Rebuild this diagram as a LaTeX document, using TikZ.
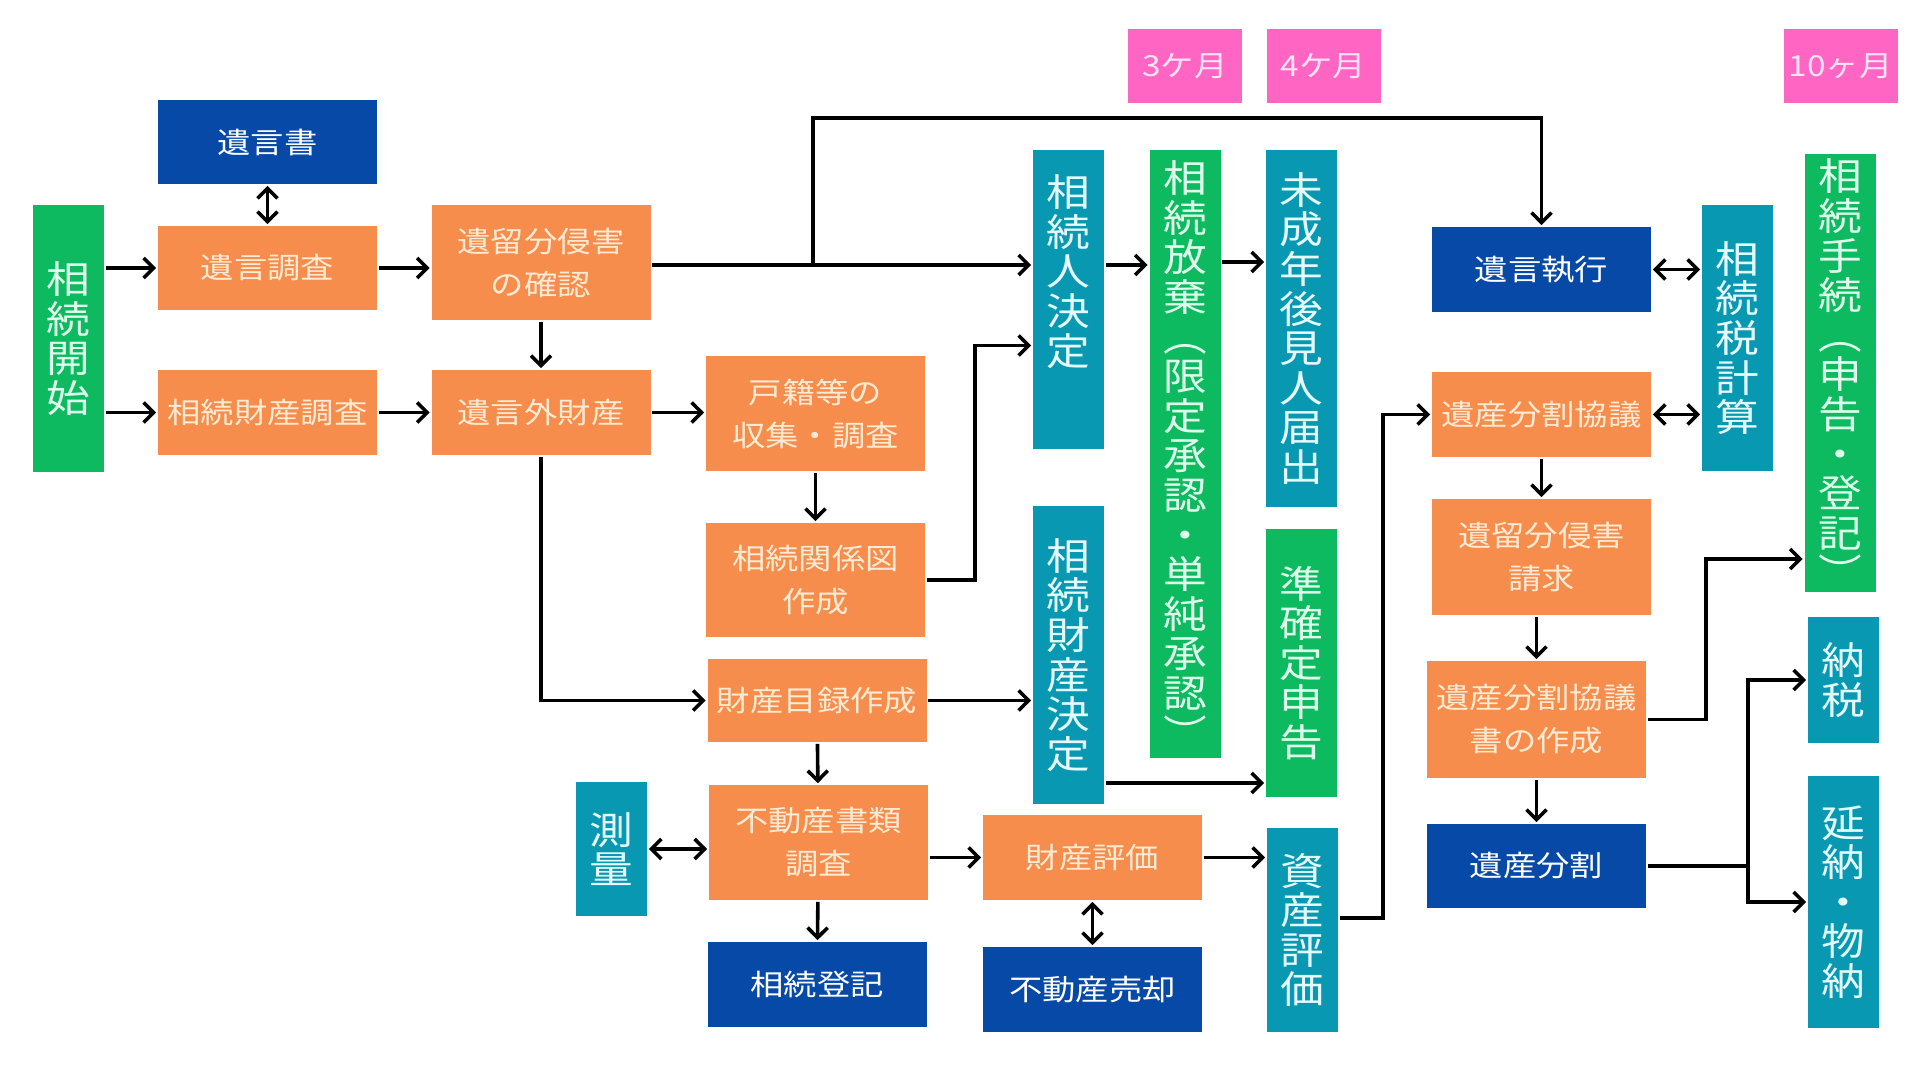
\documentclass[tikz,border=0pt]{standalone}
\usepackage{fontspec}
\setmainfont{Noto Sans CJK JP}[FakeStretch=1.15]
\usepackage{tikz}
\usetikzlibrary{calc,arrows,arrows.meta}

\definecolor{boxorange}{HTML}{F68D4C}
\definecolor{boxblue}{HTML}{0749A6}
\definecolor{boxgreen}{HTML}{0DBA5F}
\definecolor{boxteal}{HTML}{0998B2}
\definecolor{boxpink}{HTML}{FF66C4}
\definecolor{inkorange}{HTML}{FFEBD4}
\definecolor{inkgreen}{HTML}{DDFFEC}
\definecolor{inkteal}{HTML}{E4FBFF}
\definecolor{inkpink}{HTML}{FFE2F4}

\tikzset{
  box/.style={rectangle, inner sep=0pt, align=center, font=\fontsize{14.5}{21.5}\selectfont},
  wide/.style={box, minimum width=109.5pt},
  tall/.style={box, minimum width=35.5pt, font=\fontsize{19}{19.8}\selectfont},
  procbox/.style={fill=boxorange, text=inkorange},
  keybox/.style={fill=boxblue, text=white},
  stagebox/.style={fill=boxgreen, text=inkgreen},
  taskbox/.style={fill=boxteal, text=inkteal},
  limitbox/.style={box, fill=boxpink, text=inkpink, minimum width=57pt, minimum height=37pt}
}

\begin{document}
\begin{tikzpicture}[x=0.5pt, y=-0.5pt, line width=1.8pt, >={Straight Barb[length=5pt,width=10pt]}]
      \useasboundingbox (0,0) rectangle (1920,1080);

      % time limits on top
      \node[limitbox] (m3) at (1185,66) {3ケ月};
      \node[limitbox] (m4) at (1323.5,66) {4ケ月};
      \node[limitbox] (m10) at (1840.5,66) {10ヶ月};

      % first columns: start and will
      \node[tall, stagebox, minimum height=133.5pt] (start) at (68.5,338.5) {相\\続\\開\\始};
      \node[wide, keybox, minimum height=42pt] (will) at (267.5,142) {遺言書};
      \node[wide, procbox, minimum height=42pt] (willcheck) at (267.5,268) {遺言調査};
      \node[wide, procbox, minimum height=42.5pt] (estatecheck) at (267.5,412.5) {相続財産調査};
      \node[wide, procbox, minimum height=57.5pt] (reserve) at (541,262.5) {遺留分侵害\\の確認};
      \node[wide, procbox, minimum height=42.5pt] (outside) at (541,412.5) {遺言外財産};

      % family register and property column
      \node[wide, procbox, minimum height=57.5pt] (koseki) at (815.5,413.5) {戸籍等の\\収集・調査};
      \node[wide, procbox, minimum height=57pt] (relation) at (815.5,580) {相続関係図\\作成};
      \node[wide, procbox, minimum height=41.5pt] (catalog) at (817,700.5) {財産目録作成};
      \node[wide, procbox, minimum height=57.5pt] (realdoc) at (818.5,842.5) {不動産書類\\調査};
      \node[wide, keybox, minimum height=42.5pt] (registry) at (817,984.5) {相続登記};
      \node[tall, taskbox, minimum height=67pt] (survey) at (611.5,849) {測\\量};

      % heirs and assets
      \node[tall, taskbox, text height=107.5pt, text depth=42pt] (heir) at (1068.5,299.5) {相\\続\\人\\決\\定};
      \node[tall, taskbox, minimum height=149pt] (assets) at (1068.5,655) {相\\続\\財\\産\\決\\定};
      \node[wide, procbox, minimum height=42.5pt] (appraise) at (1092.5,857.5) {財産評価};
      \node[wide, keybox, minimum height=42.5pt] (sale) at (1092.5,989.5) {不動産売却};

      % deadlines of 3 and 4 months
      \node[tall, stagebox, minimum height=304pt] (renounce) at (1185,454) {相\\続\\放\\棄\\︵\\限\\定\\承\\認\\・\\単\\純\\承\\認\\︶};
      \node[tall, taskbox, minimum height=178.5pt] (guardian) at (1301.5,328.5) {未\\成\\年\\後\\見\\人\\届\\出};
      \node[tall, stagebox, minimum height=134pt] (quasi) at (1301.5,663) {準\\確\\定\\申\\告};
      \node[tall, taskbox, minimum height=102pt] (valuation) at (1302.5,930) {資\\産\\評\\価};

      % division of the estate
      \node[wide, keybox, minimum height=42.5pt] (execute) at (1541.5,269.5) {遺言執行};
      \node[wide, procbox, minimum height=42.5pt] (talk) at (1541.5,414.5) {遺産分割協議};
      \node[wide, procbox, minimum height=58pt] (claim) at (1541.5,557) {遺留分侵害\\請求};
      \node[wide, procbox, minimum height=58.5pt] (agreement) at (1536.5,719.5) {遺産分割協議\\書の作成};
      \node[wide, keybox, minimum height=42pt] (division) at (1536.5,866) {遺産分割};

      % tax and 10 month deadline
      \node[tall, taskbox, minimum height=133pt] (taxcalc) at (1737.5,338) {相\\続\\税\\計\\算};
      \node[tall, stagebox, minimum height=219pt] (proc) at (1840,373) {相\\続\\手\\続\\︵\\申\\告\\・\\登\\記\\︶};
      \node[tall, taskbox, minimum height=63pt] (pay) at (1843.5,680) {納\\税};
      \node[tall, taskbox, minimum height=126pt] (defer) at (1843.5,902) {延\\納\\・\\物\\納};

      % helper points for the connectors
      \coordinate (row) at (0,265);
      \coordinate (fork) at (813,118);
      \coordinate (split) at (1748,866);

      % left part
      \draw[->] (start.east |- willcheck.west) -- (willcheck.west);
      \draw[->] (start.east |- estatecheck.west) -- (estatecheck.west);
      \draw[<->] (will) -- (willcheck);
      \draw[->] (willcheck.east) -- (willcheck.east -| reserve.west);
      \draw[->] (estatecheck) -- (outside);
      \draw[->] (reserve) -- (outside);
      \draw[->] (outside.east) -- (outside.east -| koseki.west);
      \draw[->] (koseki) -- (relation);
      \draw[->] (outside.south) |- (catalog.west);
      \draw[->] (catalog) -- (realdoc);
      \draw[->] (realdoc) -- (registry);
      \draw[<->] (survey.east) -- (survey.east -| realdoc.west);

      % to heirs and will execution
      \draw[->] (reserve.east |- row) -- (heir.west |- row);
      \draw[->] (fork |- row) -- (fork) -| (execute.north);
      \draw[->] (relation.east) -- ++(48,0) |- ([yshift=-23pt]heir.west);
      \draw[->] (catalog.east) -- (catalog.east -| assets.west);
      \draw[->] (appraise.west -| realdoc.east) -- (appraise.west);
      \draw[<->] (appraise) -- (sale);
      \draw[->] (appraise.east) -- (appraise.east -| valuation.west);

      % deadlines
      \draw[->] (heir.east |- row) -- (renounce.west |- row);
      \draw[->] ([yshift=96pt]renounce.east) -- ([yshift=96pt]renounce.east -| guardian.west);
      \draw[->] ([yshift=-64pt]assets.east) -- ([yshift=-64pt]assets.east -| quasi.west);
      \draw[->] ([yshift=6pt]valuation.east) -- ++(43,0) |- (talk.west);

      % right part
      \draw[<->] (execute.east) -- (execute.east -| taxcalc.west);
      \draw[<->] (talk.east) -- (talk.east -| taxcalc.west);
      \draw[->] (talk) -- (claim);
      \draw[->] (claim.south -| agreement.north) -- (agreement.north);
      \draw[->] (agreement) -- (division);
      \draw[->] (agreement.east) -- ++(58,0) |- ([yshift=-93pt]proc.west);
      \draw (division.east) -- (split);
      \draw[->] (split) |- (pay.west);
      \draw[->] (split) |- (defer.west);
    \end{tikzpicture}
\end{document}
